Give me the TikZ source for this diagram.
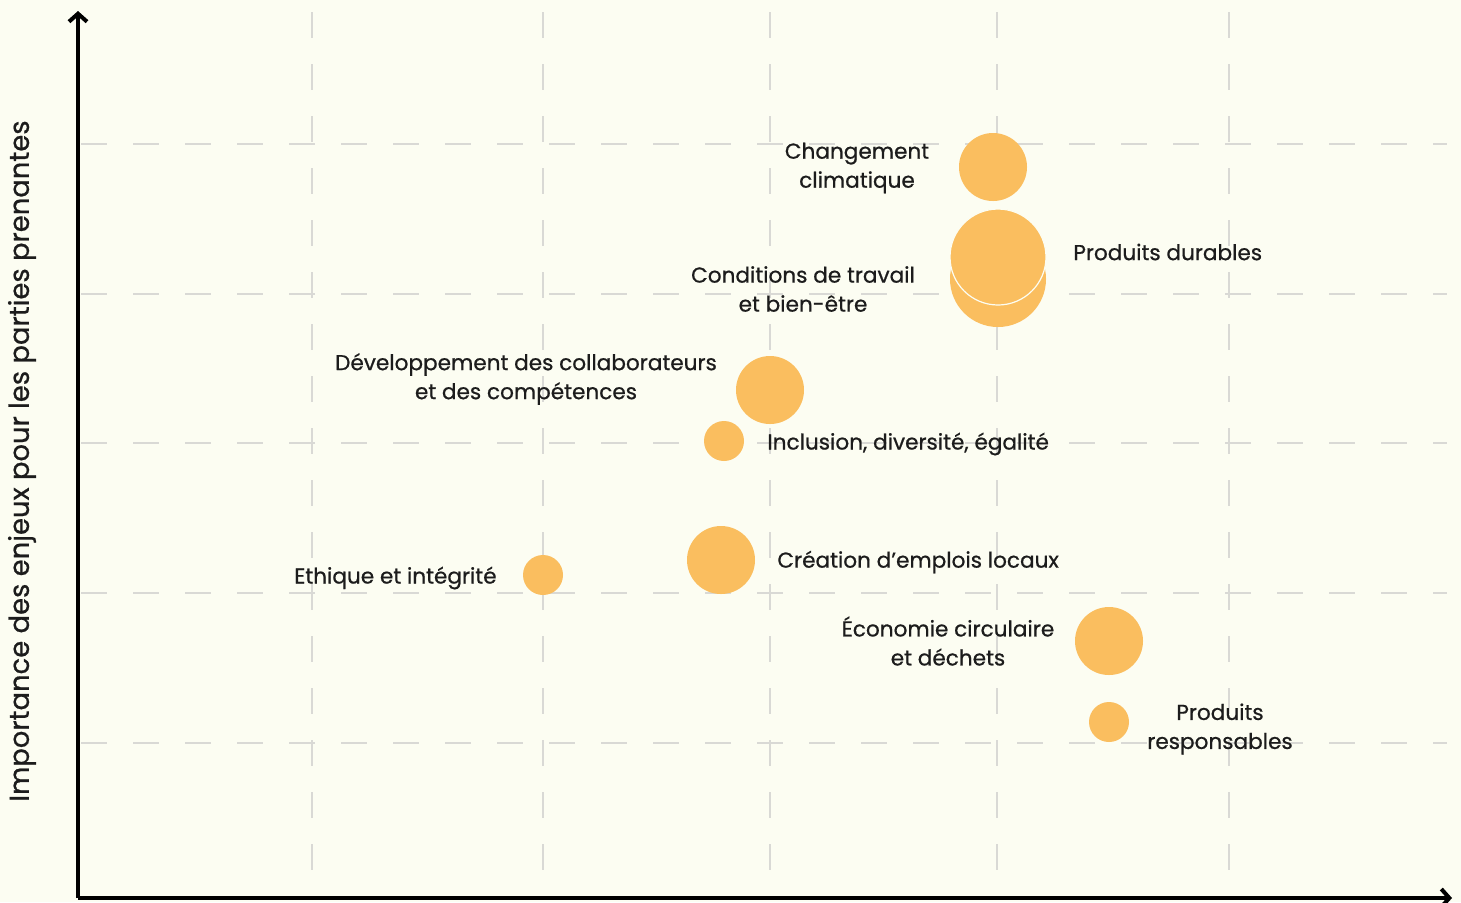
\documentclass[tikz,border=0pt]{standalone}
\usepackage{fontspec}
\setmainfont{Poppins}[FakeBold=0.7]
\usetikzlibrary{positioning}
\usetikzlibrary{arrows.meta}
\definecolor{paper}{HTML}{FCFDF2}
\definecolor{bubblecol}{HTML}{FABE5F}
\definecolor{gridcol}{HTML}{D9D9D5}
\definecolor{ink}{HTML}{1C1C1C}

\begin{document}
\begin{tikzpicture}[x=0.5pt,y=-0.5pt]
		\tikzset{
			textnode/.style={text=ink,font=\fontsize{10.8}{14.5}\selectfont,align=center,inner sep=0pt},
		}
		\tikzset{
			bubble/.style={circle,fill=bubblecol,inner sep=0pt,minimum size=#1},
			gridline/.style={color=gridcol,line width=0.75pt,dash pattern=on 13pt off 13pt},
			axis/.style={color=black,line width=2pt,-{Straight Barb[length=4pt,width=9pt]}},
		}
		
		\fill[color=paper] (0,0) rectangle (1461,902);
		\useasboundingbox (0,0) rectangle (1461,902);
		
		% grille
		\foreach \gx in {312,543,770,997,1229}
			\draw[gridline] (\gx,12) -- (\gx,897);
		\foreach \gy in {144,294,443,593,743}
			\draw[gridline] (81,\gy) -- (1447,\gy);
		
		% enjeux
		\node[bubble=34pt] (climat) at (993,167) {};
		\node[bubble=48pt] (conditions) at (998,279) {};
		\node[bubble=48pt,draw=paper,line width=0.6pt] (durables) at (998,257) {};
		\node[bubble=34pt] (dev) at (770,390) {};
		\node[bubble=20pt] (inclusion) at (724,441) {};
		\node[bubble=34pt] (creation) at (721,560) {};
		\node[bubble=20pt] (ethique) at (543,575) {};
		\node[bubble=34pt] (economie) at (1109,641) {};
		\node[bubble=20pt] (responsables) at (1109,722) {};
		
		\node[textnode] (climatL) at (857,168) {Changement\\climatique};
		\node[textnode,anchor=west] (durablesL) at (1073,252) {Produits durables};
		\node[textnode] (conditionsL) at (803,289) {Conditions de travail\\et bien-être};
		\node[textnode] (devL) at (526,379) {Développement des collaborateurs\\et des compétences};
		\node[textnode,anchor=west] (inclusionL) at (767,444) {Inclusion, diversité, égalité};
		\node[textnode,anchor=west] (creationL) at (777,562) {Création d’emplois locaux};
		\node[textnode,anchor=east] (ethiqueL) at (497,578) {Ethique et intégrité};
		\node[textnode] (economieL) at (948,641) {Économie circulaire\\et déchets};
		\node[textnode] (responsablesL) at (1220,729) {Produits\\responsables};
		
		\node[textnode,font=\fontsize{13.7}{17}\selectfont,rotate=90] (ylabel) at (22,461) {Importance des enjeux pour les parties prenantes};
		
		% axes
		\coordinate (origin) at (78,898);
		\coordinate (ytop) at (78,11);
		\coordinate (xend) at (1452,898);
		\draw[axis] (origin) to (ytop);
		\draw[axis] (origin) to (xend);
	\end{tikzpicture}
\end{document}
